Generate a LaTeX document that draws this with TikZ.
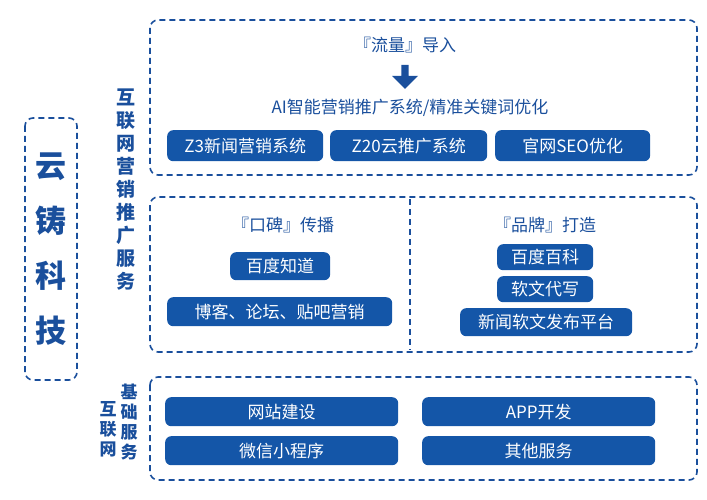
\documentclass[tikz,border=0pt]{standalone}
\usepackage{fontspec}
\setmainfont{Noto Sans CJK SC}
\usetikzlibrary{arrows.meta,shapes.arrows}
\definecolor{dk}{HTML}{1A4F9C}
\definecolor{bt}{HTML}{1456A8}
\tikzset{
 frame/.style={draw=dk,line width=1.6pt,dash pattern=on 6pt off 4pt,rounded corners=8pt},
 btn/.style={fill=bt,rounded corners=6pt,text=white,font=\fontsize{17}{17}\selectfont,inner sep=0pt},
 lbl/.style={text=dk,font=\fontsize{17}{17}\selectfont},
 vlab/.style={text=dk,font=\fontsize{19}{23}\selectfont\bfseries,align=center,text width=22pt}
}
\newcommand{\bx}[6]{\node[btn,minimum width=#3pt-#2pt,minimum height=#5pt-#4pt,anchor=north west] (#1) at (#2,#4) {#6};}
\begin{document}
\begin{tikzpicture}[x=1pt,y=-1pt]
\useasboundingbox (0,0) rectangle (707,500);
\draw[frame] (25,118) rectangle (77,380);
\node[text=dk,font=\fontsize{31}{55}\selectfont\bfseries,align=center] (yz) at (51,249) {云\\铸\\科\\技};
\node[vlab] (l1) at (126,190) {互\\联\\网\\营\\销\\推\\广\\服\\务};
\draw[frame] (150,20) rectangle (697,175);
\node[lbl] (t1) at (405,45) {『流量』导入};
\node[single arrow,fill=dk,draw=none,shape border rotate=270,minimum height=24pt,minimum width=26pt,single arrow head extend=3pt,inner sep=1pt] (ar) at (405,75) {};
\node[lbl] (t2) at (410,108) {AI智能营销推广系统/精准关键词优化};
\bx{b1}{167}{323}{130}{161}{Z3新闻营销系统}
\bx{b2}{330}{487}{130}{161}{Z20云推广系统}
\bx{b3}{495}{650}{130}{161}{官网SEO优化}
\draw[frame] (150,197) rectangle (697,352);
\draw[draw=dk,line width=1.6pt,dash pattern=on 6pt off 4pt] (410,199) -- (410,350);
\node[lbl] (k1) at (283,225) {『口碑』传播};
\bx{c1}{230}{330}{252}{280}{百度知道}
\bx{c2}{167}{392}{297}{326}{博客、论坛、贴吧营销}
\node[lbl] (p1) at (545,225) {『品牌』打造};
\bx{d1}{497}{593}{244}{270}{百度百科}
\bx{d2}{497}{593}{276}{302}{软文代写}
\bx{d3}{460}{632}{308}{336}{新闻软文发布平台}
\draw[frame] (150,377) rectangle (697,480);
\node[vlab,font=\fontsize{17}{20}\selectfont\bfseries] (l2) at (108,429) {互\\联\\网};
\node[vlab,font=\fontsize{17}{20}\selectfont\bfseries] (l3) at (129,422) {基\\础\\服\\务};
\bx{e1}{165}{398}{397}{426}{网站建设}
\bx{e2}{165}{398}{436}{465}{微信小程序}
\bx{e3}{422}{655}{397}{426}{APP开发}
\bx{e4}{422}{655}{436}{465}{其他服务}
\end{tikzpicture}
\end{document}
